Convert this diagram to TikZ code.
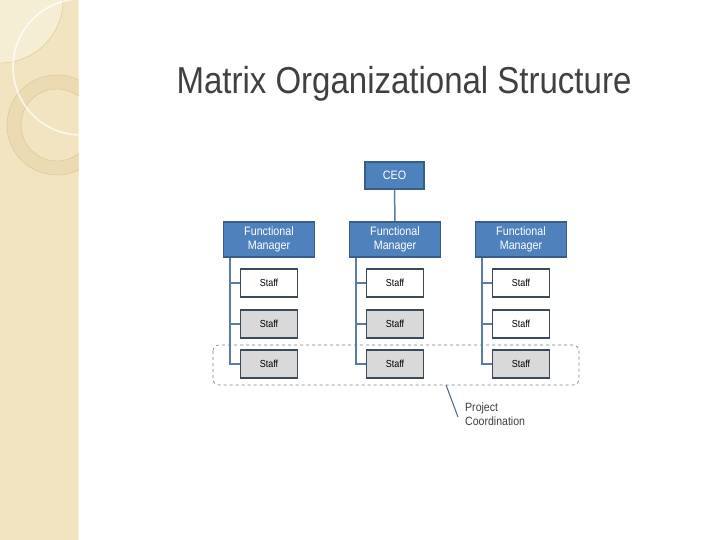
\documentclass[tikz,border=0pt]{standalone}
\usepackage{fontspec}
\setmainfont[FakeStretch=0.88]{Liberation Sans}
\usetikzlibrary{positioning}
\definecolor{strip}{RGB}{242,228,192}
\definecolor{stripring}{RGB}{236,219,178}
\definecolor{stripline}{RGB}{214,196,150}
\definecolor{fmblue}{RGB}{79,129,189}
\definecolor{fmborder}{RGB}{56,93,138}
\definecolor{conn}{RGB}{90,125,165}
\definecolor{staffborder}{RGB}{60,74,90}
\definecolor{staffgray}{RGB}{217,217,217}
\definecolor{titlegray}{RGB}{64,64,64}
\tikzset{
  fmbox/.style={draw=fmborder, line width=1.5pt, fill=fmblue, text=white, minimum width=91pt, minimum height=35pt, inner sep=0pt, align=center, font=\fontsize{12.2}{13.5}\selectfont},
  ceobox/.style={fmbox, minimum width=59pt, minimum height=27pt},
  staffbox/.style={draw=staffborder, line width=1.5pt, fill=white, minimum width=57pt, minimum height=28pt, inner sep=0pt, font=\fontsize{10.2}{11}\selectfont},
  graystaff/.style={staffbox, fill=staffgray},
  connline/.style={draw=conn, line width=1.5pt},
}
\begin{document}
\begin{tikzpicture}[x=1pt,y=-1pt]
\useasboundingbox (0,0) rectangle (720,540);
\fill[white] (0,0) rectangle (720,540);
% left decorative strip
\begin{scope}
  \clip (0,0) rectangle (78.5,540);
  \fill[strip] (0,0) rectangle (78.5,540);
  \fill[white, opacity=0.35] (0,0) circle (63);
  \draw[stripline, line width=0.4pt] (0,0) circle (63);
  \fill[stripring, even odd rule] (57,125) circle (50) (57,125) circle (36);
  \draw[stripline, line width=0.4pt] (57,125) circle (50);
  \draw[stripline, line width=0.4pt] (57,125) circle (36);
  \draw[white, opacity=0.75, line width=1.6pt] (81,67) circle (68);
\end{scope}
% title
\node[text=titlegray, font=\fontsize{37.5}{40}\selectfont, anchor=base] (title) at (404,93.5) {Matrix Organizational Structure};
% project coordination frame
\draw[gray, dashed, line width=0.6pt, rounded corners=6pt] (213,345) rectangle (579,385);
\coordinate (pcfoot) at (446,385);
% CEO
\node[ceobox] (ceo) at (394.5,175.5) {CEO};
% functional managers
\node[fmbox] (fm1) at (269,239.5) {Functional\\Manager};
\node[fmbox] (fm2) at (395,239.5) {Functional\\Manager};
\node[fmbox] (fm3) at (521,239.5) {Functional\\Manager};
\draw[connline] (ceo.south) -- (fm2.north);
% staff
\node[staffbox]  (s11) at (269,283) {Staff};
\node[graystaff] (s12) at (269,324) {Staff};
\node[graystaff] (s13) at (269,364) {Staff};
\node[staffbox]  (s21) at (395,283) {Staff};
\node[graystaff] (s22) at (395,324) {Staff};
\node[graystaff] (s23) at (395,364) {Staff};
\node[staffbox]  (s31) at (521,283) {Staff};
\node[staffbox]  (s32) at (521,324) {Staff};
\node[graystaff] (s33) at (521,364) {Staff};
% connectors
\foreach \c in {1,2,3}{
  \draw[connline] ([xshift=7pt]fm\c.south west) |- (s\c3.west);
  \draw[connline] ([xshift=7pt]fm\c.south west |- s\c1.west) -- (s\c1.west);
  \draw[connline] ([xshift=7pt]fm\c.south west |- s\c2.west) -- (s\c2.west);
}
% project coordination label
\node[anchor=north west, align=left, text=titlegray, font=\fontsize{12}{14}\selectfont, inner sep=0pt] (pc) at (465,403) {Project\\Coordination};
\draw[draw=conn!80!black, line width=1pt] (pcfoot) -- (458,417);
\end{tikzpicture}
\end{document}
